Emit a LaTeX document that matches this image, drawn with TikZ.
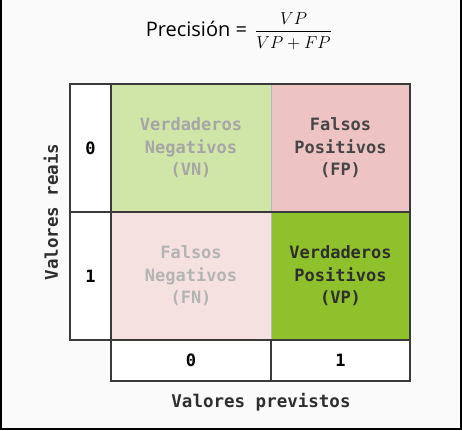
\documentclass[tikz,border=0pt]{standalone}
\usepackage{fontspec}
\usepackage{amsmath}
\usepackage{graphicx}
\usepackage{tikz}
\usetikzlibrary{positioning}
\newfontfamily\titlefont{Open Sans}
\newfontfamily\cellfont{DejaVu Sans Mono}
\definecolor{PageBack}{HTML}{FAFAFA}
\definecolor{FrameGray}{HTML}{3A3A3A}
\definecolor{SoftLine}{HTML}{B8B8B8}
\definecolor{VNFill}{HTML}{D0E5A8}
\definecolor{VNText}{HTML}{A6A6A6}
\definecolor{FPFill}{HTML}{EEC3C3}
\definecolor{FPText}{HTML}{464646}
\definecolor{FNFill}{HTML}{F6E1E1}
\definecolor{FNText}{HTML}{B4B4B4}
\definecolor{VPFill}{HTML}{8EC12C}
\definecolor{VPText}{HTML}{2E2E2E}

\begin{document}
\begin{tikzpicture}[
  x=1pt, y=-1pt,
  node distance=0pt,
  cell/.style={draw=SoftLine,line width=1pt,outer sep=0pt,inner sep=0pt,
    minimum height=128pt,align=center,
    font=\cellfont\bfseries\fontsize{17}{22.5}\selectfont},
  numcell/.style={draw=FrameGray,line width=1.3pt,outer sep=0pt,inner sep=0pt,
    fill=white,font=\cellfont\bfseries\fontsize{17}{22.5}\selectfont},
  axislabel/.style={text=VPText,font=\cellfont\bfseries\fontsize{17.5}{21}\selectfont},
  frame/.style={draw=FrameGray,line width=1.3pt}
]
  % page
  \fill[PageBack] (0,0) rectangle (462,430);
  \useasboundingbox (0,0) rectangle (462,430);
  \draw[black,line width=2pt] (1,0) -- (1,429) -- (461,429) -- (461,0);

  % formula
  \node (formula) at (239,31)
    {\titlefont\fontsize{20}{24}\selectfont Precisión =\hspace{8pt}\fontsize{14.4}{18}\selectfont\scalebox{1.2}{$\dfrac{VP}{VP+FP}$}};

  % row labels
  \node[numcell, minimum width=41pt, minimum height=128pt, anchor=north west] (rowzero) at (70,84) {0};
  \node[numcell, minimum width=41pt, minimum height=128pt, below=of rowzero] (rowone) {1};

  % matrix cells
  \node[cell, fill=VNFill, text=VNText, minimum width=160pt, right=of rowzero] (vn) {Verdaderos\\Negativos\\(VN)};
  \node[cell, fill=FPFill, text=FPText, minimum width=139pt, right=of vn] (fp) {Falsos\\Positivos\\(FP)};
  \node[cell, fill=FNFill, text=FNText, minimum width=160pt, right=of rowone] (fn) {Falsos\\Negativos\\(FN)};
  \node[cell, fill=VPFill, text=VPText, minimum width=139pt, right=of fn] (vp) {Verdaderos\\Positivos\\(VP)};

  % column labels
  \node[numcell, minimum width=160pt, minimum height=41pt, below=of fn] (colzero) {0};
  \node[numcell, minimum width=139pt, minimum height=41pt, below=of vp] (colone) {1};

  % outer frame
  \draw[frame] (rowzero.north west) rectangle (vp.south east);
  \draw[frame] (rowzero.south west) -- (fp.south east);
  \draw[frame] (rowzero.north east) -- (rowone.south east);

  % axis titles
  \node[axislabel, rotate=90] (actual) at (51,212) {Valores reais};
  \node[axislabel] (predicted) at (261,402) {Valores previstos};
\end{tikzpicture}
\end{document}
